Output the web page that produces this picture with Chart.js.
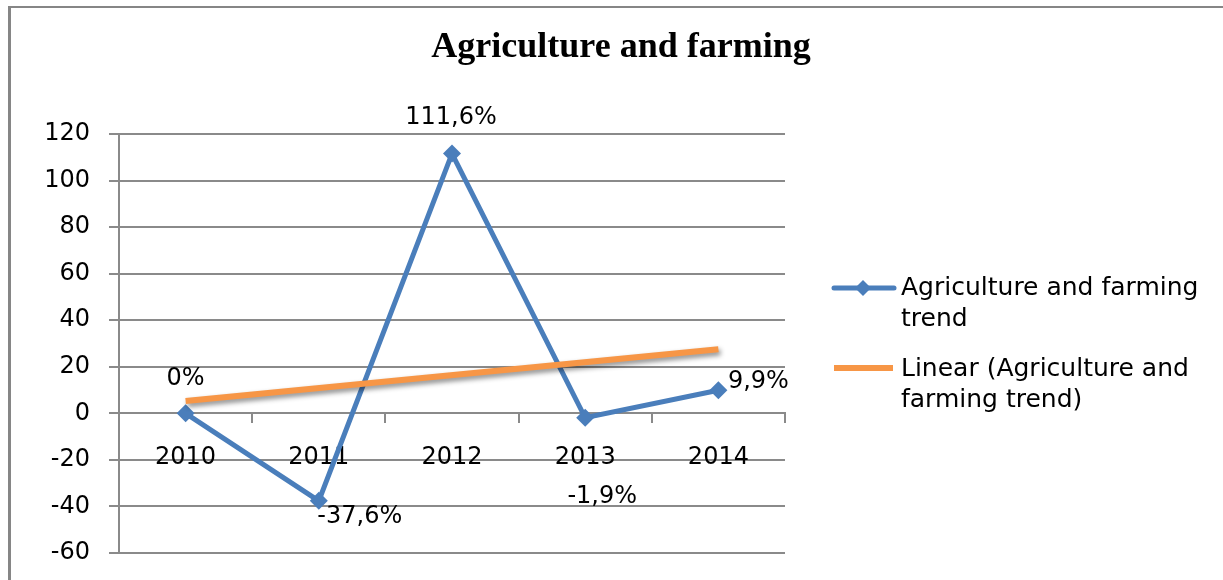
<!DOCTYPE html>
<html>
<head>
<meta charset="utf-8">
<script src="https://cdn.jsdelivr.net/npm/chart.js@4"></script>
<style>
  html, body { margin: 0; padding: 0; background: #fff; }
  #wrap { width: 1223px; height: 580px; position: relative; }
</style>
</head>
<body>
<div id="wrap"><canvas id="c" width="1223" height="580"></canvas></div>
<script>
// ---- data ----
const categories = ['2010', '2011', '2012', '2013', '2014'];
const trendValues = [0, -37.6, 111.6, -1.9, 9.9];
// linear trendline endpoints (2010 and 2014)
const linearValues = [5.3, null, null, null, 27.5];
const yTicks = { min: -60, max: 120, step: 20 };
const chartTitle = 'Agriculture and farming';
const seriesName = 'Agriculture and farming trend';
const linearName = 'Linear (Agriculture and farming trend)';

// ---- style ----
const BLUE = '#4A7EBB';
const ORANGE = '#F79646';
const GRID = '#8a8a8a';
const FONT = 'DejaVu Sans';
// label offsets relative to each point (styling)
const labelOffsets = [[0, -35], [41, 16], [-1, -36], [17, 79], [40, -9]];

const fmt = v => String(v).replace('.', ',') + '%';

const decorPlugin = {
  id: 'decor',
  beforeDraw(chart) {
    const ctx = chart.ctx;
    ctx.save();
    ctx.fillStyle = '#fff';
    ctx.fillRect(0, 0, chart.width, chart.height);
    ctx.strokeStyle = '#868686';
    ctx.lineWidth = 2;
    ctx.beginPath();
    ctx.moveTo(9, 7); ctx.lineTo(chart.width, 7);
    ctx.stroke();
    ctx.lineWidth = 3;
    ctx.beginPath();
    ctx.moveTo(9.5, 6); ctx.lineTo(9.5, chart.height);
    ctx.stroke();
    ctx.restore();
  },
  beforeDatasetDraw(chart, args) {
    if (args.index === 1) {
      const ctx = chart.ctx;
      ctx.save();
      ctx.shadowColor = 'rgba(0,0,0,0.45)';
      ctx.shadowBlur = 5;
      ctx.shadowOffsetX = 2;
      ctx.shadowOffsetY = 3;
    }
  },
  afterDatasetDraw(chart, args) {
    if (args.index === 1) chart.ctx.restore();
  },
  afterDraw(chart) {
    const ctx = chart.ctx;
    ctx.save();
    // title
    ctx.fillStyle = '#000';
    ctx.font = 'bold 36px "Liberation Serif"';
    ctx.textAlign = 'center';
    ctx.textBaseline = 'alphabetic';
    ctx.fillText(chartTitle, 621, 57);

    // data labels
    const meta = chart.getDatasetMeta(0);
    ctx.font = '24px "' + FONT + '"';
    ctx.textBaseline = 'middle';
    ctx.textAlign = 'center';
    meta.data.forEach((pt, i) => {
      const [dx, dy] = labelOffsets[i];
      ctx.fillText(fmt(trendValues[i]), pt.x + dx, pt.y + dy);
    });

    // legend
    ctx.font = '25px "' + FONT + '"';
    ctx.textAlign = 'left';
    ctx.textBaseline = 'middle';
    // item 1
    ctx.strokeStyle = BLUE; ctx.lineWidth = 5; ctx.lineCap = 'round';
    ctx.beginPath(); ctx.moveTo(834, 288); ctx.lineTo(894, 288); ctx.stroke();
    ctx.fillStyle = BLUE;
    ctx.beginPath();
    ctx.moveTo(863, 280); ctx.lineTo(871, 288); ctx.lineTo(863, 296); ctx.lineTo(855, 288); ctx.closePath();
    ctx.fill();
    ctx.fillStyle = '#000';
    ctx.fillText('Agriculture and farming', 901, 288);
    ctx.fillText('trend', 901, 319);
    // item 2
    ctx.strokeStyle = ORANGE; ctx.lineWidth = 6; ctx.lineCap = 'butt';
    ctx.beginPath(); ctx.moveTo(834, 368); ctx.lineTo(893, 368); ctx.stroke();
    ctx.fillText('Linear (Agriculture and', 901, 369);
    ctx.fillText('farming trend)', 901, 400);
    ctx.restore();
  }
};

const chart = new Chart(document.getElementById('c'), {
  type: 'line',
  data: {
    labels: categories,
    datasets: [
      {
        label: seriesName,
        data: trendValues,
        borderColor: BLUE,
        backgroundColor: BLUE,
        borderWidth: 5,
        pointStyle: 'rectRot',
        pointRadius: 9,
        pointBorderWidth: 0,
        tension: 0,
        order: 1
      },
      {
        label: linearName,
        data: linearValues,
        borderColor: ORANGE,
        borderWidth: 6,
        pointRadius: 0,
        spanGaps: true,
        tension: 0,
        order: 0
      }
    ]
  },
  options: {
    responsive: false,
    animation: false,
    events: [],
    layout: { padding: { left: 0, right: 438, top: 134, bottom: 27 } },
    plugins: {
      legend: { display: false },
      title: { display: false },
      tooltip: { enabled: false }
    },
    scales: {
      x: {
        type: 'category',
        position: { y: 0 },
        offset: true,
        grid: {
          display: true, drawOnChartArea: false, drawTicks: true,
          tickLength: 9, color: GRID, lineWidth: 2, offset: true
        },
        border: { display: true, color: GRID, width: 2 },
        ticks: { color: '#000', font: { family: FONT, size: 24 }, padding: 21, maxRotation: 0 },
        afterFit(scale) { scale.height = 0; }
      },
      y: {
        min: yTicks.min, max: yTicks.max,
        grid: { color: GRID, lineWidth: 2, tickLength: 10, drawTicks: true },
        border: { display: true, color: GRID, width: 2 },
        ticks: { stepSize: yTicks.step, color: '#000', font: { family: FONT, size: 24 }, padding: 19 },
        afterFit(scale) {
          scale.width = 119;
          scale.paddingTop = 0;
          scale.paddingBottom = 0;
        }
      }
    }
  },
  plugins: [decorPlugin]
});
</script>
</body>
</html>
